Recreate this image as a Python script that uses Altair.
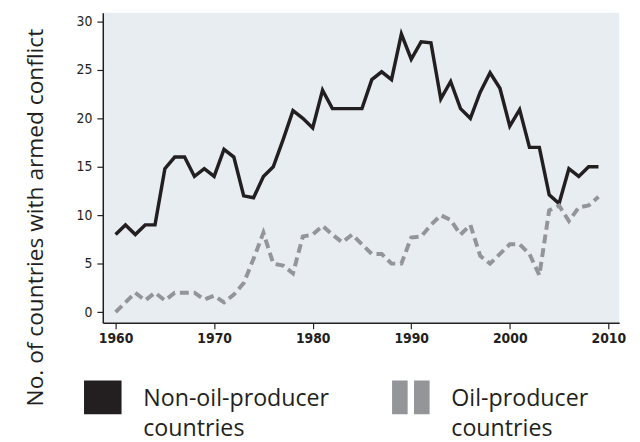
import altair as alt
import pandas as pd

years = list(range(1960, 2010))
non_oil = [8, 9, 8, 9, 9, 14.8, 16, 16, 14, 14.8,
           14, 16.8, 16, 12, 11.8, 14, 15, 17.8, 20.8, 20,
           19, 22.9, 21, 21, 21, 21, 24, 24.8, 24, 28.7,
           26.1, 27.9, 27.8, 22, 23.8, 21, 20, 22.7, 24.7, 23.1,
           19.2, 20.9, 17, 17, 12.1, 11.2, 14.8, 14, 15, 15]
oil = [0, 1, 2, 1.2, 2, 1.2, 2, 2, 2, 1.3,
       1.7, 1, 1.8, 3, 5.5, 8.2, 5, 4.8, 4, 7.8,
       8, 8.9, 8, 7.2, 8, 7, 6, 6, 5, 5,
       7.7, 7.8, 9, 10, 9.5, 8, 9, 5.8, 5, 6,
       7, 7, 6, 3.8, 10.5, 11, 9.4, 10.8, 11, 11.9]

series_names = ["Non-oil-producer countries", "Oil-producer countries"]
series_colors = ["#231f20", "#939598"]
x_ticks = [1960, 1970, 1980, 1990, 2000, 2010]
y_ticks = [0, 5, 10, 15, 20, 25, 30]

df = pd.concat([
    pd.DataFrame({"year": years, "value": non_oil, "series": series_names[0]}),
    pd.DataFrame({"year": years, "value": oil, "series": series_names[1]}),
])

tick_font = "Liberation Sans Narrow, DejaVu Sans Condensed, sans-serif"

x_enc = alt.X("year:Q", scale=alt.Scale(domain=[1958.7, 2011.1], nice=False, zero=False),
              axis=alt.Axis(values=x_ticks, format="d", title=None, grid=False,
                            labelFont=tick_font, labelFontWeight="bold", labelFontSize=14,
                            labelColor="#231f20", labelPadding=3,
                            domainColor="#231f20", domainWidth=1.5,
                            tickColor="#231f20", tickSize=6, tickWidth=1.2))
y_enc = alt.Y("value:Q", scale=alt.Scale(domain=[-1.1, 30.9], nice=False, zero=False),
              axis=alt.Axis(values=y_ticks, grid=False, title="No. of countries with armed conflict",
                            titleFont="Open Sans", titleFontSize=23, titleFontWeight="normal",
                            titleColor="#231f20", titleAngle=-90, titleX=-61, titleY=207,
                            titleBaseline="alphabetic", titleAlign="center",
                            labelFont=tick_font, labelFontSize=14, labelColor="#231f20",
                            labelPadding=5,
                            domainColor="#231f20", domainWidth=1.5,
                            tickColor="#231f20", tickSize=6, tickWidth=1.2))

base = alt.Chart(df)

line_non = base.transform_filter(alt.datum.series == series_names[0]).mark_line(
    color=series_colors[0], strokeWidth=3.5, strokeJoin="miter"
).encode(x=x_enc, y=y_enc)

line_oil = base.transform_filter(alt.datum.series == series_names[1]).mark_line(
    color=series_colors[1], strokeWidth=4, strokeDash=[9, 5], strokeJoin="miter"
).encode(x=x_enc, y=y_enc)

sq = "M-1,-1.35H1V0.44H-1Z"
bars = "M-1,-1.35H-0.17V0.44H-1Z M0.17,-1.35H1V0.44H0.17Z"

leg = dict(title=None, orient="none", legendX=-19, legendY=379,
           direction="horizontal", symbolSize=1444,
           symbolStrokeWidth=0, labelFont="Open Sans",
           labelFontSize=23.5, labelColor="#231f20",
           labelBaseline="alphabetic", labelOffset=22,
           labelLimit=400, labelExpr="split(datum.label, ' ')",
           columnPadding=63, padding=0)

legend_pts = base.transform_filter("false").mark_point(filled=True, opacity=1).encode(
    x=x_enc, y=y_enc,
    color=alt.Color("series:N", scale=alt.Scale(domain=series_names, range=series_colors),
                    legend=alt.Legend(**leg)),
    shape=alt.Shape("series:N", scale=alt.Scale(domain=series_names, range=[sq, bars]),
                    legend=alt.Legend(**leg)),
)

chart = alt.layer(line_non, line_oil, legend_pts).properties(
    width=523, height=314,
    background="white",
    autosize=alt.AutoSizeParams(type="none"),
    padding={"left": 96, "top": 2, "right": 13, "bottom": 118},
).configure_view(fill="#e8edf1", strokeWidth=0)
chart.config.style = {"guide-label": {"lineHeight": 30}}

chart.save("out.html", embed_options={"renderer": "svg", "actions": False})
